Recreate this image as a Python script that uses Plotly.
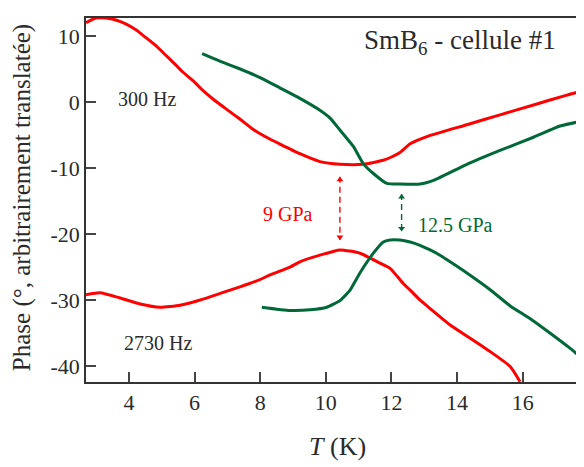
import plotly.graph_objects as go

# ---- data ----
T_red_300 = [2.69, 2.99, 3.29, 3.6, 3.9, 4.21, 4.52, 4.82, 5.13, 5.44, 5.64, 5.95, 6.25, 6.56,
             6.96, 7.37, 7.78, 8.19, 8.59, 9.21, 9.82, 10.43, 11.14, 11.75, 12.0, 12.26, 12.57,
             13.08, 14.3, 15.31, 16.33, 17.35, 17.87]
V_red_300 = [12.1, 12.8, 12.8, 12.5, 11.9, 11.0, 9.8, 8.6, 7.1, 5.6, 4.6, 3.3, 1.8, 0.5,
             -1.0, -2.5, -4.1, -5.3, -6.3, -7.8, -9.0, -9.4, -9.4, -8.8, -8.3, -7.6, -6.3,
             -5.2, -3.4, -1.9, -0.4, 1.1, 1.8]

T_green_300 = [6.23, 6.75, 7.37, 7.98, 8.6, 9.21, 9.82, 10.13, 10.43, 10.84, 11.14, 11.45, 11.86,
               12.26, 12.87, 13.3, 14.3, 15.31, 16.33, 17.14, 17.87]
V_green_300 = [7.4, 6.3, 5.1, 3.8, 2.2, 0.6, -1.2, -2.4, -4.2, -6.7, -9.3, -10.8, -12.3,
               -12.4, -12.4, -11.8, -9.4, -7.3, -5.3, -3.6, -2.8]

T_red_2730 = [2.69, 3.12, 3.73, 4.34, 4.95, 5.56, 6.17, 6.78, 7.38, 7.99, 8.3, 8.91, 9.21, 9.82,
              10.43, 11.04, 11.65, 11.96, 12.36, 12.57, 12.87, 13.18, 13.79, 14.4, 15.0, 15.62,
              15.92]
V_red_2730 = [-29.2, -28.9, -29.7, -30.6, -31.1, -30.8, -30.0, -29.0, -28.0, -26.9, -26.2, -25.0,
              -24.2, -23.2, -22.4, -22.9, -24.4, -25.2, -27.5, -28.5, -30.0, -31.3, -33.8, -35.8,
              -37.8, -40.1, -42.4]

T_green_2730 = [8.05, 8.91, 9.52, 10.03, 10.43, 10.74, 11.04, 11.45, 11.75, 11.96, 12.26, 12.57,
                12.87, 13.18, 13.48, 13.79, 14.3, 15.0, 15.62, 16.22, 16.83, 17.44, 17.75]
V_green_2730 = [-31.1, -31.6, -31.5, -31.1, -30.1, -28.5, -25.9, -22.9, -21.2, -20.9, -20.9,
                -21.2, -21.7, -22.4, -23.2, -24.2, -25.9, -28.4, -30.9, -32.8, -35.0, -37.3,
                -38.6]

x_ticks = [4, 6, 8, 10, 12, 14, 16]
x_ticktext = ["4", "6", "8", "10", "12", "14", "16"]
y_ticks = [-40, -30, -20, -10, 0, 10]
y_ticktext = ["-40", "-30", "-20", "-10", "0", "10"]

# double-headed dashed arrows: T position and the two tip values
arrow_red_T = 10.43
arrow_red_tips = [-11.3, -20.9]
arrow_green_T = 12.31
arrow_green_tips = [-13.9, -19.6]

RED = "#ff0000"
GREEN = "#006937"
FONT = "Liberation Serif"
TXT = "#2a2a2a"

fig = go.Figure()
for T, V, c in [(T_red_300, V_red_300, RED), (T_green_300, V_green_300, GREEN),
                (T_red_2730, V_red_2730, RED), (T_green_2730, V_green_2730, GREEN)]:
    fig.add_trace(go.Scatter(x=T, y=V, mode="lines",
                             line=dict(color=c, width=3, shape="spline", smoothing=0.5),
                             showlegend=False, hoverinfo="skip"))

HEAD = 0.46  # offset of marker centre from tip (style)
for t, tips, c in [(arrow_red_T, arrow_red_tips, RED), (arrow_green_T, arrow_green_tips, GREEN)]:
    fig.add_trace(go.Scatter(x=[t, t], y=tips, mode="lines",
                             line=dict(color=c, width=1.4, dash="6px,4px"),
                             showlegend=False, hoverinfo="skip"))
    fig.add_trace(go.Scatter(x=[t, t], y=[tips[0] - HEAD, tips[1] + HEAD], mode="markers",
                             marker=dict(symbol=["triangle-up", "triangle-down"], size=6,
                                         color=c, line=dict(width=0)),
                             showlegend=False, hoverinfo="skip"))

ann = [
    dict(x=4.54, y=0.5, text="300 Hz", color=TXT, size=20),
    dict(x=4.89, y=-36.5, text="2730 Hz", color=TXT, size=20),
    dict(x=8.85, y=-16.9, text="9 GPa", color=RED, size=20),
    dict(x=13.94, y=-18.6, text="12.5 GPa", color=GREEN, size=20),
    dict(x=14.09, y=9.2, text="SmB<sub>6</sub> - cellule #1", color=TXT, size=27),
]
for a in ann:
    fig.add_annotation(x=a["x"], y=a["y"], xref="x", yref="y", text=a["text"], showarrow=False,
                       xanchor="center", yanchor="middle",
                       font=dict(family=FONT, size=a["size"], color=a["color"]))

# axis titles
fig.add_annotation(x=-64 / 498, y=0.505, xref="paper", yref="paper",
                   text="Phase (°, arbitrairement translatée)", textangle=-90, showarrow=False,
                   xanchor="center", yanchor="middle",
                   font=dict(family=FONT, size=25, color=TXT))
fig.add_annotation(x=(337 - 86) / 498, y=-(446 - 382) / 364, xref="paper", yref="paper",
                   text="<i>T</i> (K)", showarrow=False, xanchor="center", yanchor="middle",
                   font=dict(family=FONT, size=26, color=TXT))

# page body has an 8px margin: size and margins compensate so the plot box lands
# at x 86..584, y 18..382 in the 584x467 window
fig.update_layout(
    width=576, height=459,
    margin=dict(l=78, r=0, t=10, b=85),
    paper_bgcolor="white", plot_bgcolor="white",
    font=dict(family=FONT, color=TXT),
    xaxis=dict(range=[2.69, 17.87], tickvals=x_ticks, ticktext=x_ticktext, ticks="inside",
               ticklen=10, tickwidth=1.5, tickcolor="#444", showline=True, linecolor="#333",
               linewidth=1.5, mirror=True, showgrid=False, zeroline=False,
               tickfont=dict(family=FONT, size=22, color=TXT)),
    yaxis=dict(range=[-42.45, 12.8], tickvals=y_ticks, ticktext=y_ticktext, ticks="inside",
               ticklen=10, tickwidth=1.5, tickcolor="#444", showline=True, linecolor="#333",
               linewidth=1.5, showgrid=False, zeroline=False,
               tickfont=dict(family=FONT, size=22, color=TXT)),
)

fig.write_html("out.html")
